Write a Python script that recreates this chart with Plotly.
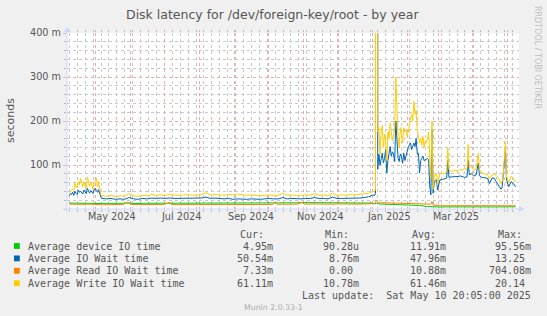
import plotly.graph_objects as go
import pandas as pd

# ---------------- data ----------------
title = "Disk latency for /dev/foreign-key/root - by year"
start = pd.Timestamp("2024-04-05 20:05")
end = pd.Timestamp("2025-05-10 20:05")

# day offsets from start (IO wait / write series)
days_io = [2, 3, 4, 5, 6, 7, 8, 9, 10, 11, 12, 13, 14, 15, 16, 17, 18, 19, 20, 21, 22, 23, 24, 25, 26, 27, 28, 29, 30,
           31, 35, 39, 43, 47, 51, 55, 59, 63, 67, 71, 75, 79, 83, 87, 91, 95, 99, 103, 107, 111, 115, 119, 123, 127,
           131, 135, 139, 143, 147, 151, 155, 159, 163, 167, 171, 175, 179, 183, 187, 191, 195, 199, 203, 207, 211,
           215, 219, 223, 227, 231, 235, 239, 243, 247, 251, 255, 259, 263, 267, 271,
           272, 273, 274, 275, 276, 277, 278, 279, 280, 281, 282, 283, 284, 285, 286, 287, 288, 289, 290, 291, 292,
           293, 294, 295, 296, 297, 298, 299, 300, 301, 302, 303, 304, 305, 306, 307, 308, 309, 310, 311, 312, 313,
           314, 315, 316, 317, 318, 319, 320, 321, 322, 323, 324, 325, 326, 327, 328, 329,
           330, 332, 334, 336, 337, 338, 340, 342, 344, 346, 348, 350, 352, 354, 355, 356, 358, 360, 362, 364, 365,
           367, 370, 372, 374, 376, 378, 380, 382, 384, 385, 386, 388, 389, 391, 393, 395, 397]

write_ms = [36, 40, 43, 45, 42, 59, 50, 48, 62, 55, 70, 60, 51, 62, 55, 45, 73, 60, 52, 62, 50, 45, 58, 62, 70, 50, 62, 42, 33,
            30, 29, 31, 28, 30, 29, 35, 30, 29, 31, 30, 33, 31, 32, 31, 33, 32, 31, 32, 33, 31, 32, 33, 37, 32,
            33, 32, 31, 33, 32, 34, 32, 31, 32, 31, 30, 31, 32, 30, 31, 36, 31, 32, 30, 31, 32,
            31, 35, 31, 32, 30, 36, 31, 32, 31, 33, 32, 33, 34, 36, 40,
            38, 45, 20140, 175, 185, 125, 175, 190, 140, 170, 150, 110, 175, 160, 195, 175, 155, 165, 185, 300, 230,
            160, 140, 185, 170, 150, 185, 175, 180, 165, 175, 195, 205, 215, 200, 245, 215, 225, 180, 165, 150, 160,
            145, 165, 140, 155, 150, 160, 175, 120, 70, 200, 45, 75, 80, 80, 55, 70,
            80, 82, 80, 85, 138, 90, 85, 87, 88, 86, 90, 88, 92, 90, 147, 95, 96, 88, 92, 127, 90,
            82, 80, 78, 70, 78, 80, 75, 70, 58, 62, 78, 152, 72, 60, 75, 70, 61]

iowait_ms = [30, 35, 33, 38, 31, 40, 36, 33, 43, 38, 40, 36, 34, 43, 38, 35, 47, 40, 36, 42, 38, 35, 43, 47, 42, 38, 44, 36, 26,
             24, 23, 24, 22, 23, 22, 26, 23, 22, 24, 23, 25, 24, 25, 24, 25, 24, 24, 25, 25, 24, 24, 25, 27, 24,
             25, 24, 23, 24, 22, 23, 22, 22, 23, 22, 22, 23, 24, 23, 23, 26, 23, 24, 23, 23, 24,
             24, 26, 24, 24, 23, 27, 24, 24, 24, 25, 25, 25, 26, 28, 32,
             30, 35, 13250, 90, 125, 100, 115, 127, 105, 115, 135, 82, 110, 127, 142, 120, 130, 125, 108, 200, 165,
             115, 108, 125, 120, 104, 127, 110, 120, 134, 140, 146, 150, 135, 145, 150, 142, 160, 125, 127, 82, 110,
             115, 120, 110, 112, 112, 115, 112, 52, 32, 180, 36, 60, 66, 66, 43, 60,
             66, 67, 68, 70, 111, 72, 73, 73, 74, 74, 75, 73, 72, 73, 111, 78, 80, 75, 77, 104, 76,
             72, 70, 70, 58, 70, 70, 62, 55, 45, 48, 73, 134, 66, 51, 62, 58, 50.5]

# day offsets from start (device / read series)
days_dev = [2, 8, 14, 20, 26, 32, 38, 44, 50, 54, 56, 62, 68, 74, 80, 86, 91, 92, 98, 104,
            110, 116, 122, 128, 134, 140, 146, 152, 158, 164, 170, 176, 182, 184, 186, 192, 198, 204, 208, 210,
            216, 222, 228, 234, 240, 246, 252, 258, 264, 270, 272, 274, 276, 282, 288, 294, 300, 306, 312, 318,
            322, 323, 324, 330, 336, 342, 348, 354, 360, 366, 372, 378, 384, 390, 397]

device_ms = [13.5, 13, 14, 13.5, 13, 12.5, 13, 12.5, 13, 13.5, 13, 12.5, 13, 13, 13.5, 13, 13, 13.5, 13, 13,
             13.5, 13, 13, 13.5, 13, 13, 12.5, 13, 13, 13.5, 13, 13, 13.5, 13.5, 13, 13.5, 14, 14, 14.5, 14.5,
             15, 14.5, 15, 15, 14.5, 15, 14.5, 14.5, 14, 13.5, 12, 13, 11.5, 11, 11, 10, 9.5, 9, 8, 6,
             5, 5.5, 5, 4.5, 4.8, 4.6, 4.8, 5, 4.7, 4.9, 4.8, 5, 4.7, 4.9, 4.95]

read_ms = [11, 10, 10.5, 11, 10, 9.5, 10, 10, 10.5, 16, 10.5, 10, 10.5, 11, 10, 10.5, 15, 10.5, 10, 10.5,
           11, 10.5, 10, 10.5, 11, 10.5, 10, 10, 10.5, 10, 10.5, 10, 10.5, 15, 10.5, 11, 10.5, 11, 15, 11,
           11.5, 11, 11.5, 11, 11.5, 11, 11.5, 11, 11.5, 11, 12, 20, 14, 14, 13.5, 14, 13.5, 13.5, 13, 12,
           11, 17, 9, 7.5, 7.4, 7.5, 7.4, 7.5, 7.3, 7.4, 7.5, 7.4, 7.3, 7.4, 7.33]

series_names = ["Average device IO time", "Average IO Wait time", "Average Read IO Wait time", "Average Write IO Wait time"]
series_colors = ["#00CC00", "#0066B3", "#FF8000", "#FFCC00"]
cur_txt = ["4.95m", "50.54m", "7.33m", "61.11m"]
min_txt = ["90.28u", "8.76m", "0.00", "10.78m"]
avg_txt = ["11.91m", "47.96m", "10.88m", "61.46m"]
max_txt = ["95.56m", "13.25", "704.08m", "20.14"]

y_ticks = [100, 200, 300, 400]
y_ticktext = ["100 m", "200 m", "300 m", "400 m"]
month_labels = ["May 2024", "Jul 2024", "Sep 2024", "Nov 2024", "Jan 2025", "Mar 2025"]
month_label_dates = ["2024-05-16", "2024-07-16", "2024-09-16", "2024-11-16", "2025-01-16", "2025-03-16"]
last_update = "Last update:  Sat May 10 20:05:00 2025"
version = "Munin 2.0.33-1"

# ---------------- geometry helpers ----------------
WIDTH, HEIGHT = 547, 316
L, T, W, H = 67, 33, 452, 176


def px(x):
    return (x - L) / W


def py(y):
    return (T + H - y) / H


TEXT = "#555555"
AXIS = "#CFD6F8"
GRID = "#C8C8C8"
MGRID = "#F2A8A8"
SANS = "DejaVu Sans"
MONO = "DejaVu Sans Mono"

x_io = [start + pd.Timedelta(days=d) for d in days_io]
x_dev = [start + pd.Timedelta(days=d) for d in days_dev]

fig = go.Figure()
traces = [(x_dev, device_ms), (x_io, iowait_ms), (x_dev, read_ms), (x_io, write_ms)]
for (xs, ys), name, col in zip(traces, series_names, series_colors):
    fig.add_trace(go.Scatter(x=xs, y=ys, mode="lines", name=name,
                             line=dict(color=col, width=1), hoverinfo="skip", showlegend=False))

mondays = [d.strftime("%Y-%m-%d") for d in pd.date_range("2024-04-08", "2025-05-10", freq="7D")]
month_starts = [d.strftime("%Y-%m-%d") for d in pd.date_range("2024-05-01", "2025-05-10", freq="MS")]

fig.update_layout(
    width=WIDTH, height=HEIGHT,
    margin=dict(l=L, r=WIDTH - L - W, t=T, b=HEIGHT - T - H, pad=0),
    paper_bgcolor="#F0F0F0", plot_bgcolor="#FFFFFF",
    showlegend=False,
    xaxis=dict(type="date", range=[start, end], showline=False, zeroline=False,
               tickmode="array", tickvals=month_starts, showticklabels=False,
               showgrid=True, gridcolor=MGRID, griddash="dot", gridwidth=1,
               ticks="outside", ticklen=2, tickcolor="#E8B0B0", mirror="ticks",
               minor=dict(tickmode="array", tickvals=mondays, showgrid=True, gridcolor=GRID,
                          griddash="dot", gridwidth=1, ticks="outside", ticklen=2, tickcolor="#BBBBBB")),
    yaxis=dict(range=[0, 400], showline=False, zeroline=False,
               tickmode="array", tickvals=y_ticks, ticktext=y_ticktext,
               tickfont=dict(family=SANS, size=9.7, color=TEXT),
               showgrid=True, gridcolor=MGRID, griddash="dot", gridwidth=1,
               ticks="outside", ticklen=3, tickcolor="#E8B0B0",
               minor=dict(dtick=20, showgrid=True, gridcolor=GRID, griddash="dot", gridwidth=1,
                          ticks="outside", ticklen=2, tickcolor="#BBBBBB")),
)

shapes = []
# axes with arrows
shapes.append(dict(type="line", xref="paper", yref="paper", x0=px(63), x1=px(520), y0=py(209), y1=py(209),
                   line=dict(color=AXIS, width=1), layer="above"))
shapes.append(dict(type="line", xref="paper", yref="paper", x0=px(67), x1=px(67), y0=py(212), y1=py(30),
                   line=dict(color=AXIS, width=1), layer="above"))
shapes.append(dict(type="path", xref="paper", yref="paper",
                   path=f"M {px(519)},{py(206.5)} L {px(524)},{py(209)} L {px(519)},{py(211.5)} Z",
                   fillcolor=AXIS, line=dict(color=AXIS, width=0.5), layer="above"))
shapes.append(dict(type="path", xref="paper", yref="paper",
                   path=f"M {px(64.5)},{py(32)} L {px(67)},{py(27)} L {px(69.5)},{py(32)} Z",
                   fillcolor=AXIS, line=dict(color=AXIS, width=0.5), layer="above"))

ann = []
ann.append(dict(text=title, x=px(272.5), y=py(14), xref="paper", yref="paper", showarrow=False,
                xanchor="center", yanchor="middle", font=dict(family=SANS, size=12.5, color=TEXT)))
ann.append(dict(text="seconds", x=px(10), y=py(121), xref="paper", yref="paper", showarrow=False,
                textangle=-90, xanchor="center", yanchor="middle", font=dict(family=SANS, size=11, color=TEXT)))
ann.append(dict(text="RRDTOOL / TOBI OETIKER", x=px(538), y=py(57), xref="paper", yref="paper", showarrow=False,
                textangle=90, xanchor="center", yanchor="middle", font=dict(family=SANS, size=8, color="#BFBFBF")))
for lab, dt in zip(month_labels, month_label_dates):
    ann.append(dict(text=lab, x=dt, y=py(216), xref="x", yref="paper", showarrow=False,
                    xanchor="center", yanchor="middle", font=dict(family=SANS, size=9.7, color=TEXT)))

legend_font = dict(family=MONO, size=10, color=TEXT)
header_y = 234.2
for txt, xl in zip(["Cur:", "Min:", "Avg:", "Max:"], [238.7, 324, 411, 496.5]):
    ann.append(dict(text=txt, x=px(xl), y=py(header_y), xref="paper", yref="paper", showarrow=False,
                    xanchor="left", yanchor="middle", font=legend_font, borderpad=0))

row_y = [246, 258.4, 270.8, 283.2]
col_right = [274, 360, 446.7, 532.4]
char_w = 6.02
for i in range(4):
    yv = row_y[i]
    shapes.append(dict(type="rect", xref="paper", yref="paper", x0=px(14), x1=px(19.8),
                       y0=py(yv + 2.9), y1=py(yv - 2.9), fillcolor=series_colors[i], line=dict(width=0)))
    ann.append(dict(text=series_names[i], x=px(26.8), y=py(yv), xref="paper", yref="paper", showarrow=False,
                    xanchor="left", yanchor="middle", font=legend_font, borderpad=0))
    for j, vals in enumerate([cur_txt, min_txt, avg_txt, max_txt]):
        v = vals[i]
        xr = col_right[j]
        if not v[-1].isalpha():
            xr -= char_w
        ann.append(dict(text=v, x=px(xr), y=py(yv), xref="paper", yref="paper", showarrow=False,
                        xanchor="right", yanchor="middle", font=legend_font, borderpad=0))

ann.append(dict(text=last_update.replace(" ", "&nbsp;"), x=px(532.4), y=py(295.6), xref="paper", yref="paper",
                showarrow=False, xanchor="right", yanchor="middle", font=legend_font, borderpad=0))
ann.append(dict(text=version, x=px(273.5), y=py(307.5), xref="paper", yref="paper", showarrow=False,
                xanchor="center", yanchor="middle", font=dict(family=SANS, size=7.8, color="#AAAAAA")))

fig.update_layout(shapes=shapes, annotations=ann)
fig.write_html("out.html")
